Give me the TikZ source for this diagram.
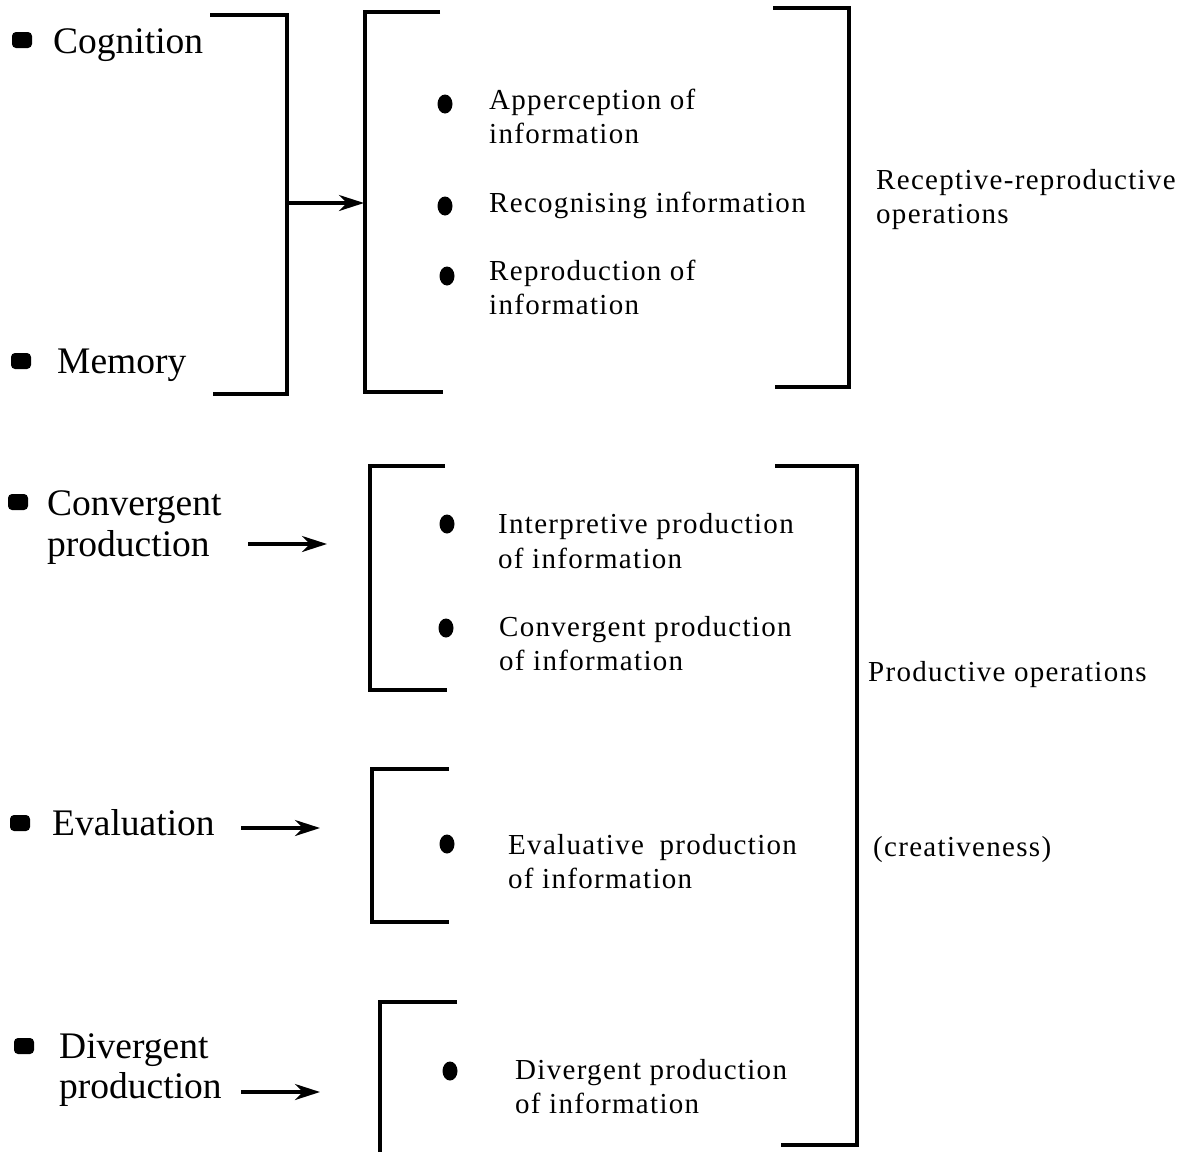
\documentclass[tikz,border=0pt]{standalone}
\usepackage{fontspec}
\setmainfont{Liberation Serif}
\newfontfamily\itemfont[LetterSpace=4.5]{Liberation Serif}
\usetikzlibrary{arrows.meta,shapes.geometric}
% two stacked lines whose baseline is the first line's
\newcommand\linepair[3]{\vtop{\baselineskip=#1\lineskiplimit=-100pt\hbox{#2}\hbox{#3}}}

\begin{document}
\begin{tikzpicture}[x=1pt,y=-1pt,
  bracket/.style={line width=3.1pt, line join=miter},
  feed/.style={line width=3.2pt, -{Stealth[length=25pt,width=16pt,inset=8pt]}},
  mainlabel/.style={font=\fontsize{37.5}{40}\selectfont, anchor=base west, inner sep=0pt},
  itemlabel/.style={font=\itemfont\fontsize{29}{34}\selectfont, anchor=base west, inner sep=0pt},
  sqbullet/.style={rectangle, fill=black, rounded corners=4pt, minimum width=20pt, minimum height=16pt, inner sep=0pt},
  dotbullet/.style={ellipse, fill=black, minimum width=15pt, minimum height=19pt, inner sep=0pt}
]
\useasboundingbox (0,0) rectangle (1187,1152);

% ---- faculties (left column) ----
\node[sqbullet] (bcog) at (22,40) {};
\node[mainlabel] (cog) at (53,53) {Cognition};
\node[sqbullet] (bmem) at (21,361) {};
\node[mainlabel] (mem) at (57,373) {Memory};
\node[sqbullet] (bconv) at (18,502) {};
\node[mainlabel] (conv) at (47,515) {\linepair{41pt}{Convergent}{production}};
\node[sqbullet] (beval) at (20,823) {};
\node[mainlabel] (eval) at (52,835) {Evaluation};
\node[sqbullet] (bdiv) at (24,1046) {};
\node[mainlabel] (div) at (59,1058) {\linepair{40pt}{Divergent}{production}};

% ---- brackets ----
\draw[bracket] (210,15) -- (287,15) -- (287,394) -- (213,394);
\draw[bracket] (440,12) -- (365,12) -- (365,392) -- (443,392);
\draw[bracket] (773,8) -- (849,8) -- (849,387) -- (775,387);
\draw[bracket] (445,466) -- (370,466) -- (370,690) -- (447,690);
\draw[bracket] (449,769) -- (372,769) -- (372,922) -- (449,922);
\draw[bracket] (457,1002) -- (380,1002) -- (380,1160);
\draw[bracket] (775,466) -- (857,466) -- (857,1145) -- (781,1145);

% ---- arrows ----
\coordinate (fromcm) at (287,203);
\coordinate (tocm) at (364,203);
\draw[feed] (fromcm) -- (tocm);
\coordinate (fromconv) at (248,544);
\coordinate (toconv) at (327,544);
\draw[feed] (fromconv) -- (toconv);
\coordinate (fromeval) at (241,828);
\coordinate (toeval) at (320,828);
\draw[feed] (fromeval) -- (toeval);
\coordinate (fromdiv) at (241,1092);
\coordinate (todiv) at (320,1092);
\draw[feed] (fromdiv) -- (todiv);

% ---- operations ----
\node[dotbullet] (d1) at (445,104) {};
\node[itemlabel] (app) at (489,109) {\linepair{34pt}{Apperception of}{information}};
\node[dotbullet] (d2) at (445,206) {};
\node[itemlabel] (rec) at (489,212) {Recognising information};
\node[dotbullet] (d3) at (447,276) {};
\node[itemlabel] (rep) at (489,280) {\linepair{34pt}{Reproduction of}{information}};
\node[itemlabel] (rr) at (876,189) {\linepair{34pt}{Receptive-reproductive}{operations}};

\node[dotbullet] (d4) at (447,524) {};
\node[itemlabel] (interp) at (498,533) {\linepair{35pt}{Interpretive production}{of information}};
\node[dotbullet] (d5) at (446,628) {};
\node[itemlabel] (convp) at (499,636) {\linepair{34pt}{Convergent production}{of information}};
\node[itemlabel] (prodops) at (868,681) {Productive operations};

\node[dotbullet] (d6) at (447,844) {};
\node[itemlabel] (evalp) at (508,854) {\linepair{34pt}{Evaluative\hspace{7pt} production}{of information}};
\node[itemlabel] (creat) at (873,856) {(creativeness)};

\node[dotbullet] (d7) at (450,1071) {};
\node[itemlabel] (divp) at (515,1079) {\linepair{34pt}{Divergent production}{of information}};
\end{tikzpicture}
\end{document}
